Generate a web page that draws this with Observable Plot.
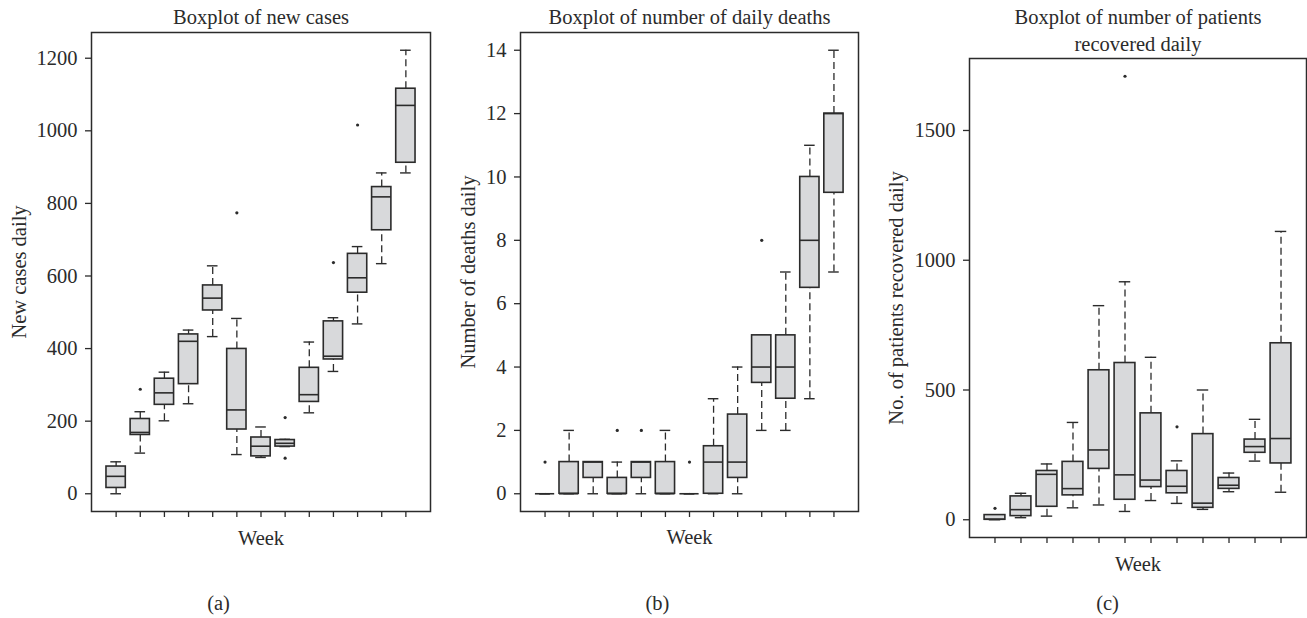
<!DOCTYPE html>
<html>
<head>
<meta charset="utf-8">
<script src="https://cdn.jsdelivr.net/npm/d3@7"></script>
<script src="https://cdn.jsdelivr.net/npm/@observablehq/plot@0.6"></script>
<style>
  body { margin: 0; background: #fff; }
  #wrap { position: relative; width: 1307px; height: 618px; overflow: hidden; background: #fff; }
  .panel { position: absolute; top: 0; }
  #wrap svg { max-width: none !important; }
</style>
</head>
<body>
<div id="wrap"></div>
<script>
// ---------- Panel (a): new cases ----------
const casesWeeks = [1, 2, 3, 4, 5, 6, 7, 8, 9, 10, 11, 12, 13];
const casesLow  = [0, 112, 201, 248, 433, 108, 100, 130, 223, 337, 468, 634, 884];
const casesQ1   = [16, 162, 245, 302, 505, 177, 103, 130, 253, 370, 554, 726, 912];
const casesMed  = [48, 169, 278, 420, 539, 231, 131, 139, 273, 379, 595, 818, 1070];
const casesQ3   = [75, 206, 317, 439, 574, 399, 155, 148, 347, 475, 661, 845, 1116];
const casesHigh = [88, 226, 335, 451, 628, 483, 184, 150, 418, 485, 681, 884, 1222];
const casesOutWeek = [2, 6, 8, 8, 10, 11];
const casesOutVal  = [288, 774, 98, 210, 637, 1016];
const casesTicks = [0, 200, 400, 600, 800, 1000, 1200];

// ---------- Panel (b): daily deaths ----------
const deathsWeeks = [1, 2, 3, 4, 5, 6, 7, 8, 9, 10, 11, 12, 13];
const deathsLow  = [0, 0, 0, 0, 0, 0, 0, 0, 0, 2, 2, 3, 7];
const deathsQ1   = [0, 0, 0.5, 0, 0.5, 0, 0, 0, 0.5, 3.5, 3, 6.5, 9.5];
const deathsMed  = [0, 0, 1, 0, 1, 0, 0, 1, 1, 4, 4, 8, 12];
const deathsQ3   = [0, 1, 1, 0.5, 1, 1, 0, 1.5, 2.5, 5, 5, 10, 12];
const deathsHigh = [0, 2, 1, 1, 1, 2, 0, 3, 4, 5, 7, 11, 14];
const deathsOutWeek = [1, 4, 5, 7, 10];
const deathsOutVal  = [1, 2, 2, 1, 8];
const deathsTicks = [0, 2, 4, 6, 8, 10, 12, 14];

// ---------- Panel (c): recovered daily ----------
const recWeeks = [1, 2, 3, 4, 5, 6, 7, 8, 9, 10, 11, 12];
const recLow  = [0, 8, 14, 46, 57, 32, 74, 63, 40, 108, 226, 106];
const recQ1   = [0, 14, 50, 94, 196, 77, 126, 102, 46, 119, 258, 217];
const recMed  = [2, 39, 175, 120, 269, 173, 153, 129, 64, 133, 282, 313];
const recQ3   = [18, 90, 188, 223, 576, 604, 410, 188, 330, 161, 309, 680];
const recHigh = [18, 102, 215, 375, 825, 917, 626, 227, 500, 180, 387, 1111];
const recOutWeek = [1, 6, 8];
const recOutVal  = [44, 1709, 358];
const recTicks = [0, 500, 1000, 1500];

// ---------- styling ----------
const FONT = "Liberation Serif, DejaVu Serif, serif";
const FS = 20.5;
const INK = "#2b2b2b";
const BOX = "#d8d9db";

function boxPanel(cfg) {
  const {weeks, low, q1, med, q3, high, outW, outV, ticks, title, ylab, cap,
         left, width, mL, mR, mT, mB, ylabDx, titleDy, weekDy, capX, capDy} = cfg;
  const n = weeks.length;
  const idx = d3.range(n);
  const oIdx = d3.range(outW.length);
  const lo = Math.min(d3.min(low), d3.min(outV));
  const hi = Math.max(d3.max(high), d3.max(outV));
  const pad = 0.04 * (hi - lo);
  const xpad = 0.04 * n;
  const w = i => weeks[i];
  const txt = {fontFamily: FONT, fontSize: FS, fill: INK, lineAnchor: "middle", textAnchor: "middle"};
  const plot = Plot.plot({
    width, height: 618,
    marginLeft: mL, marginRight: mR, marginTop: mT, marginBottom: mB,
    style: {fontFamily: FONT, fontSize: FS + "px", color: INK, background: "white", overflow: "visible"},
    x: {type: "linear", domain: [0.5 - xpad, n + 0.5 + xpad]},
    y: {type: "linear", domain: [lo - pad, hi + pad]},
    marks: [
      Plot.axisX({ticks: weeks, tickSize: 6, tickFormat: () => "", label: null, strokeWidth: 1.3}),
      Plot.axisY({ticks, tickSize: 6, tickPadding: 8, label: null, strokeWidth: 1.3,
                  tickFormat: d3.format("d"), fontFamily: FONT, fontSize: FS, fill: INK}),
      // whiskers
      Plot.ruleX(idx, {x: w, y1: i => q3[i], y2: i => high[i], stroke: INK, strokeWidth: 1.3, strokeDasharray: "7,4"}),
      Plot.ruleX(idx, {x: w, y1: i => low[i], y2: i => q1[i], stroke: INK, strokeWidth: 1.3, strokeDasharray: "7,4"}),
      // caps
      Plot.ruleY(idx, {y: i => high[i], x1: i => w(i) - 0.22, x2: i => w(i) + 0.22, stroke: INK, strokeWidth: 1.4}),
      Plot.ruleY(idx, {y: i => low[i], x1: i => w(i) - 0.22, x2: i => w(i) + 0.22, stroke: INK, strokeWidth: 1.4}),
      // boxes
      Plot.rect(idx, {x1: i => w(i) - 0.4, x2: i => w(i) + 0.4, y1: i => q1[i], y2: i => q3[i],
                      fill: BOX, stroke: INK, strokeWidth: 1.6}),
      // medians
      Plot.ruleY(idx, {y: i => med[i], x1: i => w(i) - 0.4, x2: i => w(i) + 0.4, stroke: INK, strokeWidth: 1.6}),
      // outliers
      Plot.dot(oIdx, {x: i => outW[i], y: i => outV[i], r: 1.6, fill: INK, stroke: null}),
      Plot.frame({stroke: INK, strokeWidth: 1.5}),
      // texts
      Plot.text([title], {...txt, frameAnchor: "top", dy: titleDy, text: d => d, lineHeight: 1.3}),
      Plot.text([ylab], {...txt, frameAnchor: "left", dx: ylabDx, rotate: -90, text: d => d}),
      Plot.text(["Week"], {...txt, frameAnchor: "bottom", dy: weekDy, text: d => d}),
      Plot.text([cap], {...txt, frameAnchor: "bottom-left", dx: capX - mL, dy: capDy, text: d => d})
    ]
  });
  const div = document.createElement("div");
  div.className = "panel";
  div.style.left = left + "px";
  div.appendChild(plot);
  document.getElementById("wrap").appendChild(div);
}

boxPanel({
  weeks: casesWeeks, low: casesLow, q1: casesQ1, med: casesMed, q3: casesQ3, high: casesHigh,
  outW: casesOutWeek, outV: casesOutVal, ticks: casesTicks,
  title: "Boxplot of new cases", ylab: "New cases daily", cap: "(a)",
  left: 0, width: 440, mL: 91, mR: 10, mT: 32, mB: 107,
  ylabDx: -72, titleDy: -16.7, weekDy: 27, capX: 218, capDy: 92
});
boxPanel({
  weeks: deathsWeeks, low: deathsLow, q1: deathsQ1, med: deathsMed, q3: deathsQ3, high: deathsHigh,
  outW: deathsOutWeek, outV: deathsOutVal, ticks: deathsTicks,
  title: "Boxplot of number of daily deaths", ylab: "Number of deaths daily", cap: "(b)",
  left: 440, width: 430, mL: 80, mR: 12, mT: 32, mB: 107,
  ylabDx: -51.7, titleDy: -16.7, weekDy: 26, capX: 217, capDy: 92
});
boxPanel({
  weeks: recWeeks, low: recLow, q1: recQ1, med: recMed, q3: recQ3, high: recHigh,
  outW: recOutWeek, outV: recOutVal, ticks: recTicks,
  title: "Boxplot of number of patients\nrecovered daily", ylab: "No. of patients recovered daily", cap: "(c)",
  left: 870, width: 437, mL: 99, mR: 1, mT: 58, mB: 81,
  ylabDx: -73.5, titleDy: -29.3, weekDy: 26.5, capX: 237, capDy: 66
});
</script>
</body>
</html>
